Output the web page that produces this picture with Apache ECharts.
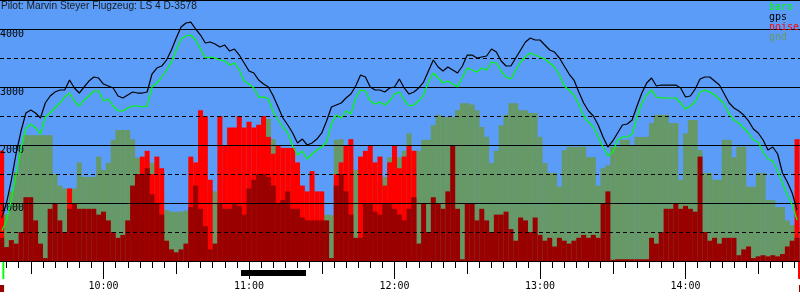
<!DOCTYPE html>
<html><head><meta charset="utf-8">
<script src="https://cdn.jsdelivr.net/npm/echarts@6/dist/echarts.min.js"></script>
<style>html,body{margin:0;padding:0;background:#fff}#c{width:800px;height:300px}</style>
</head><body><div id="c"></div>
<script>
const titleText = 'Pilot: Marvin Steyer Flugzeug: LS 4 D-3578';
const legendNames = ['baro', 'gps', 'noise', 'gnd'];
const startMinute = 558;   // 09:18
const stepMinutes = 2;

const gps = [741,1000,1396,1862,2241,2552,2603,2552,2465,2724,
2845,2914,2948,2948,3120,2983,2896,3000,3103,3172,
3155,3051,3017,2983,2845,2810,2862,2914,2896,2896,
2914,3224,3327,3362,3465,3638,3845,4034,4103,4120,
4000,3896,3758,3776,3741,3690,3724,3620,3655,3551,
3414,3276,3241,3120,3051,3000,2845,2655,2465,2345,
2207,2034,2103,2000,2034,2103,2207,2414,2655,2690,
2724,2810,2879,3017,3207,3172,3000,2948,2948,2914,
2983,3000,3138,2983,2879,2914,2983,3086,3276,3465,
3345,3276,3345,3293,3241,3362,3551,3551,3500,3517,
3534,3655,3603,3448,3362,3362,3500,3638,3776,3845,
3810,3810,3724,3638,3603,3500,3362,3224,3120,2914,
2724,2586,2500,2345,2138,1965,2069,2207,2345,2362,
2431,2672,2896,3069,3155,3017,3034,3034,3034,3034,
2983,2827,2845,2965,3138,3172,3172,3103,3034,2879,
2724,2638,2586,2517,2414,2276,2207,2086,1914,1965,
1845,1517,1362,1172,879];

const baro = [517,690,1052,1500,1948,2276,2362,2293,2190,2483,
2552,2638,2724,2827,2896,2758,2672,2776,2845,2931,
2931,2758,2793,2672,2586,2586,2638,2672,2672,2655,
2672,3000,3069,3172,3293,3431,3638,3827,3879,3896,
3810,3655,3500,3517,3500,3465,3448,3379,3414,3293,
3103,3051,2983,2827,2827,2793,2569,2431,2310,2207,
1983,1827,1896,1759,1845,1914,1965,2052,2362,2517,
2465,2586,2534,2810,2948,2931,2758,2707,2741,2690,
2758,2879,2914,2776,2672,2690,2758,2862,3086,3241,
3155,3069,3103,3051,3000,3172,3327,3293,3258,3327,
3293,3431,3414,3276,3172,3138,3293,3431,3517,3586,
3551,3517,3483,3414,3345,3207,3017,2948,2862,2707,
2500,2396,2310,2138,1965,1810,1879,2086,2138,2138,
2190,2483,2724,2862,2948,2827,2810,2810,2810,2810,
2724,2620,2672,2741,2914,2948,2914,2862,2793,2707,
2534,2431,2379,2293,2207,2086,2052,1879,1759,1724,
1552,1345,1138,965,707];

const gnd = [500,800,1200,1530,1910,2170,2170,2170,2170,2170,
2170,1500,1300,1250,1250,1250,1700,1450,1450,1450,
1800,1570,1690,2090,2260,2260,2260,2100,1780,1780,
1690,1690,1650,1220,880,850,850,850,870,930,
1050,1140,1140,1300,1200,1000,1000,950,950,1000,
1000,1100,1200,1500,2100,2450,2100,1950,1500,1200,
1100,1000,1000,950,900,850,850,800,790,2090,
2100,1800,1800,1570,1570,1600,1650,1400,1400,1450,
1790,1850,1790,1900,2200,1900,1900,2090,2090,2340,
2520,2480,2480,2480,2600,2720,2720,2700,2600,2310,
2140,1690,1900,2340,2520,2720,2720,2600,2600,2550,
2550,2140,1690,1520,1520,1280,1910,1970,1970,1970,
1970,1790,1790,1300,1600,1650,1970,1970,2090,2090,
2000,2140,2140,2140,2380,2520,2520,2520,2380,2380,
1400,2200,2430,2430,1910,1520,1520,1400,1400,2090,
2090,1790,1970,1970,1280,1280,1520,1520,1050,1050,
930,930,700,620,590];

const noisePeak = [1900,0,0,0,0,0,0,0,0,0,
0,0,0,0,1250,0,0,0,0,0,
0,0,0,0,0,0,0,0,0,1800,
1900,1500,1800,1600,0,0,0,0,0,1800,
1700,2600,2500,1400,0,2500,2000,2300,2300,2500,
2300,2400,2300,2350,2500,2140,1850,2000,1950,1950,
1950,1700,1300,1200,1550,1200,1200,0,0,1500,
1700,2000,2100,0,1800,1900,2000,1700,1800,1300,
1700,2000,1600,1800,2000,1900,0,0,0,0,
0,0,0,0,0,0,0,0,0,0,
0,0,0,0,0,0,0,0,0,0,
0,0,0,0,0,0,0,0,0,0,
0,0,0,0,0,0,0,0,0,0,
0,0,0,0,0,0,0,0,0,0,
0,0,0,0,0,0,0,0,0,0,
0,0,0,0,0,0,0,0,0,0,
0,0,0,0,2100];

const noiseMean = [400,240,360,300,500,1100,1100,700,300,50,
900,1000,700,500,900,1000,900,900,900,900,
800,850,700,500,400,450,700,1300,1500,1500,
1600,1150,1000,800,350,200,150,200,300,930,
1300,900,600,200,300,1000,900,900,1000,950,
800,1250,1400,1500,1500,1450,1300,1000,1050,1200,
900,900,750,700,700,700,700,700,50,1300,
1500,1200,800,400,400,1000,1000,850,800,1000,
1000,900,800,700,900,1100,300,1000,500,1100,
1000,900,1200,2000,900,30,1000,1000,700,900,
700,500,800,800,850,550,350,750,700,500,
750,450,350,400,250,400,350,300,350,400,
450,400,450,400,1000,1200,20,30,30,30,
30,30,30,30,400,300,500,900,900,1000,
900,950,900,850,1800,500,350,400,300,400,
400,400,100,200,250,50,80,100,80,100,
80,120,250,350,400];

// time markers below the axis (minutes since midnight)
const engineRun = [656.7, 683.5];
const launchMark = [558.3, 559.1];
const landingMark = [886.4, 887.3];
const startBox = [557.0, 559.0];
const endBox = [886.8, 887.3];

const BLUE = '#5a9cf8', OLIVE = '#669966', DARKRED = '#990000', RED = '#ff0000', GREEN = '#00ff00';
const MONO = 'DejaVu Sans Mono';

const times = gps.map((_, i) => startMinute + i * stepMinutes);
const pair = arr => arr.map((v, i) => [times[i], v]);
const hhmm = v => String(Math.floor(v / 60)).padStart(2, '0') + ':' + String(Math.round(v % 60)).padStart(2, '0');

const chart = echarts.init(document.getElementById('c'), null, {renderer: 'canvas'});
const legendColors = [GREEN, '#000000', RED, OLIVE];

chart.setOption({
  animation: false,
  backgroundColor: '#ffffff',
  grid: [
    {left: -42, right: -31, top: 0, bottom: 39, show: true, backgroundColor: BLUE, borderWidth: 0,
     containLabel: false, outerBoundsMode: 'none'},
    {left: -42, right: -31, top: 261, height: 32, show: false, containLabel: false, outerBoundsMode: 'none'}
  ],
  xAxis: [
    {type: 'value', gridIndex: 0, min: 540, max: 900, interval: 60, position: 'bottom', z: 6,
     axisLine: {show: true, lineStyle: {color: '#000', width: 1}},
     axisTick: {show: true, length: 18, lineStyle: {color: '#000', width: 1}},
     minorTick: {show: true, splitNumber: 12, length: 7, lineStyle: {color: '#000', width: 1}},
     splitLine: {show: false}, minorSplitLine: {show: false},
     axisLabel: {show: true, margin: 20, color: '#000', fontFamily: MONO, fontSize: 10,
       formatter: v => (v % 60 === 0 && v > 560 && v < 880 ? hhmm(v) : '')}},
    {type: 'value', gridIndex: 0, min: 540, max: 900, interval: 30, position: 'bottom', z: 6,
     axisLine: {show: false},
     axisTick: {show: true, length: 13, lineStyle: {color: '#000', width: 1}},
     splitLine: {show: false}, axisLabel: {show: false}},
    {type: 'value', gridIndex: 1, min: 540, max: 900, show: false}
  ],
  yAxis: [
    {type: 'value', gridIndex: 0, min: 0, max: 4500, interval: 1000, offset: -42, z: 5,
     axisLine: {show: false}, axisTick: {show: false},
     splitLine: {show: true, lineStyle: {color: '#000', width: 1, type: 'solid'}},
     axisLabel: {show: true, inside: true, margin: 0, verticalAlign: 'top', color: '#000',
       fontFamily: MONO, fontSize: 10,
       formatter: v => (v > 0 && v < 4500 && v % 1000 === 0 ? String(v) : '')}},
    {type: 'value', gridIndex: 0, min: 0, max: 4500, interval: 500, offset: -42, z: 5,
     axisLine: {show: false}, axisTick: {show: false}, axisLabel: {show: false},
     splitLine: {show: true, lineStyle: {color: '#000', width: 1, type: [4, 3]}}},
    {type: 'value', gridIndex: 1, min: 0, max: 32, inverse: true, show: false}
  ],
  series: [
    {name: 'gnd', type: 'bar', xAxisIndex: 0, yAxisIndex: 0, data: pair(gnd), barWidth: 5, barGap: '-100%',
     itemStyle: {color: OLIVE}, z: 2},
    {name: 'noise', type: 'bar', xAxisIndex: 0, yAxisIndex: 0, data: pair(noisePeak), barWidth: 5, barGap: '-100%',
     itemStyle: {color: RED}, z: 2},
    {name: 'noiseMean', type: 'bar', xAxisIndex: 0, yAxisIndex: 0, data: pair(noiseMean), barWidth: 5, barGap: '-100%',
     itemStyle: {color: DARKRED}, z: 2},
    {name: 'baro', type: 'line', xAxisIndex: 0, yAxisIndex: 0, data: pair(baro), symbol: 'none',
     lineStyle: {color: GREEN, width: 1.2}, z: 7},
    {name: 'gps', type: 'line', xAxisIndex: 0, yAxisIndex: 0, data: pair(gps), symbol: 'none',
     lineStyle: {color: '#000', width: 1.2}, z: 8},
    {name: 'markers', type: 'line', xAxisIndex: 2, yAxisIndex: 2, data: [], symbol: 'none',
     markArea: {silent: true, data: [
       [{xAxis: engineRun[0], yAxis: 9, itemStyle: {color: '#000'}}, {xAxis: engineRun[1], yAxis: 15}],
       [{xAxis: launchMark[0], yAxis: 1, itemStyle: {color: GREEN}}, {xAxis: launchMark[1], yAxis: 18}],
       [{xAxis: landingMark[0], yAxis: 1, itemStyle: {color: RED}}, {xAxis: landingMark[1], yAxis: 18}],
       [{xAxis: startBox[0], yAxis: 24, itemStyle: {color: DARKRED}}, {xAxis: startBox[1], yAxis: 31}],
       [{xAxis: endBox[0], yAxis: 24, itemStyle: {color: DARKRED}}, {xAxis: endBox[1], yAxis: 31}]
     ]}}
  ],
  graphic: [
    {type: 'text', left: 1, top: 1, z: 20,
     style: {text: titleText, fill: '#1a1a1a', font: '10.2px "Liberation Sans", Arial, sans-serif'}}
  ].concat(legendNames.map((n, i) => ({
    type: 'text', left: 769, top: 2 + i * 10, z: 20,
    style: {text: n, fill: legendColors[i], font: '10px "' + MONO + '", monospace'}
  })))
});
</script></body></html>
